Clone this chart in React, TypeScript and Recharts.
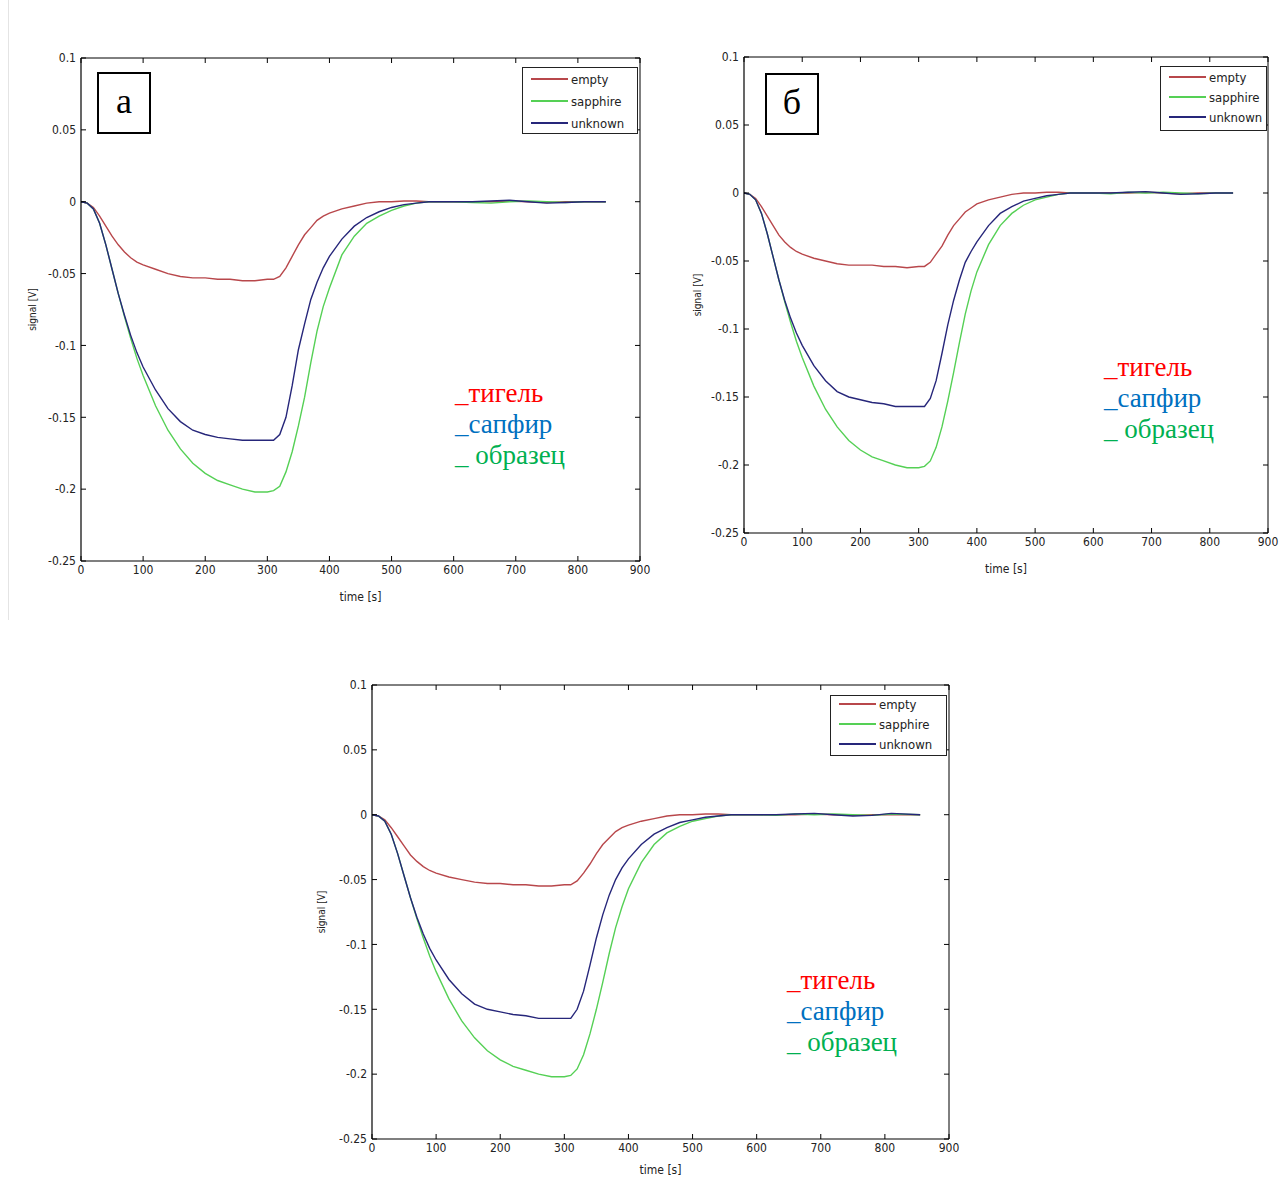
import React from 'react';
import { LineChart, Line, XAxis, YAxis, Legend } from 'recharts';

// shared time grid (s)
const timeBase = [0, 10, 20, 30, 40, 50, 60, 70, 80, 90, 100, 120, 140, 160, 180, 200, 220, 240, 260, 280, 300, 310, 320, 330, 340, 350, 360, 370, 380, 390, 400, 420, 440, 460, 480, 500, 520, 540, 560, 580, 600, 630, 660, 690, 720, 750, 780, 810];
const timeA = [...timeBase, 845];
const timeB = [...timeBase, 840];
const timeC = [...timeBase, 855];

// panel а
const emptyA = [0, -0.001, -0.004, -0.010, -0.017, -0.024, -0.030, -0.035, -0.039, -0.042, -0.044, -0.047, -0.050, -0.052, -0.053, -0.053, -0.054, -0.054, -0.055, -0.055, -0.054, -0.054, -0.052, -0.046, -0.038, -0.030, -0.023, -0.018, -0.013, -0.010, -0.008, -0.005, -0.003, -0.001, 0, 0, 0.0005, 0.0005, 0, 0, 0, 0, 0, 0.0005, 0, -0.0005, 0, 0, 0];
const sapphireA = [0, -0.001, -0.005, -0.015, -0.030, -0.047, -0.064, -0.080, -0.095, -0.109, -0.121, -0.142, -0.159, -0.172, -0.182, -0.189, -0.194, -0.197, -0.200, -0.202, -0.202, -0.201, -0.198, -0.188, -0.174, -0.156, -0.136, -0.112, -0.090, -0.073, -0.060, -0.037, -0.024, -0.015, -0.010, -0.006, -0.003, -0.001, 0, 0, 0, -0.0005, -0.001, 0, 0.0005, 0, -0.0005, 0, 0];
const unknownA = [0, -0.001, -0.005, -0.015, -0.030, -0.047, -0.064, -0.079, -0.093, -0.105, -0.115, -0.131, -0.144, -0.153, -0.159, -0.162, -0.164, -0.165, -0.166, -0.166, -0.166, -0.166, -0.162, -0.150, -0.128, -0.103, -0.085, -0.068, -0.056, -0.046, -0.038, -0.026, -0.017, -0.011, -0.007, -0.004, -0.002, -0.001, 0, 0, 0, 0, 0.0005, 0.001, 0, -0.001, -0.0005, 0, 0];

// panel б
const emptyB = [0, -0.001, -0.004, -0.010, -0.017, -0.024, -0.031, -0.036, -0.040, -0.043, -0.045, -0.048, -0.050, -0.052, -0.053, -0.053, -0.053, -0.054, -0.054, -0.055, -0.054, -0.054, -0.051, -0.045, -0.039, -0.031, -0.024, -0.019, -0.014, -0.011, -0.008, -0.005, -0.003, -0.001, 0, 0, 0.0005, 0.0005, 0, 0, 0, 0, 0, 0.0005, 0, -0.0005, 0, 0, 0];
const sapphireB = [0, -0.001, -0.005, -0.015, -0.030, -0.047, -0.064, -0.080, -0.095, -0.109, -0.121, -0.142, -0.159, -0.172, -0.182, -0.189, -0.194, -0.197, -0.200, -0.202, -0.202, -0.201, -0.197, -0.187, -0.172, -0.153, -0.132, -0.110, -0.089, -0.072, -0.058, -0.038, -0.024, -0.015, -0.009, -0.005, -0.003, -0.001, 0, 0, 0, -0.0005, 0.0005, 0, 0.0005, 0, -0.0005, 0, 0];
const unknownB = [0, -0.001, -0.005, -0.015, -0.030, -0.047, -0.064, -0.079, -0.092, -0.103, -0.112, -0.127, -0.138, -0.146, -0.150, -0.152, -0.154, -0.155, -0.157, -0.157, -0.157, -0.157, -0.151, -0.138, -0.118, -0.097, -0.079, -0.064, -0.051, -0.043, -0.036, -0.024, -0.015, -0.010, -0.006, -0.004, -0.002, -0.001, 0, 0, 0, 0, 0.0005, 0.001, 0, -0.001, -0.0005, 0, 0];

// panel в
const emptyC = [0, -0.001, -0.004, -0.010, -0.017, -0.024, -0.031, -0.036, -0.040, -0.043, -0.045, -0.048, -0.050, -0.052, -0.053, -0.053, -0.054, -0.054, -0.055, -0.055, -0.054, -0.054, -0.051, -0.045, -0.038, -0.030, -0.023, -0.018, -0.013, -0.010, -0.008, -0.005, -0.003, -0.001, 0, 0, 0.0005, 0.0005, 0, 0, 0, 0, 0, 0.0005, 0, -0.0005, 0, 0, 0];
const sapphireC = [0, -0.001, -0.005, -0.015, -0.030, -0.047, -0.064, -0.080, -0.095, -0.109, -0.121, -0.142, -0.159, -0.172, -0.182, -0.189, -0.194, -0.197, -0.200, -0.202, -0.202, -0.201, -0.196, -0.185, -0.169, -0.150, -0.129, -0.107, -0.087, -0.071, -0.057, -0.037, -0.023, -0.014, -0.009, -0.005, -0.003, -0.001, 0, 0, 0, -0.0005, 0.0005, 0, 0.0005, 0, -0.0005, 0.0005, 0];
const unknownC = [0, -0.001, -0.005, -0.015, -0.030, -0.047, -0.064, -0.079, -0.092, -0.103, -0.112, -0.127, -0.138, -0.146, -0.150, -0.152, -0.154, -0.155, -0.157, -0.157, -0.157, -0.157, -0.150, -0.136, -0.116, -0.095, -0.077, -0.062, -0.050, -0.041, -0.034, -0.023, -0.015, -0.010, -0.006, -0.004, -0.002, -0.001, 0, 0, 0, 0, 0.0005, 0.001, 0, -0.001, -0.0005, 0.001, 0];

const xTicks = [0, 100, 200, 300, 400, 500, 600, 700, 800, 900];
const yTicks = [-0.25, -0.2, -0.15, -0.1, -0.05, 0, 0.05, 0.1];
const seriesKeys = ['empty', 'sapphire', 'unknown'];
const seriesColors = ['#b8474b', '#55d055', '#26267a'];
const annotationTexts = ['_тигель', '_сапфир', '_ образец'];
const annotationColors = ['#ff0000', '#0070c0', '#00b050'];
const panelLabels = ['а', 'б', ''];

const NARROW = "'Liberation Sans Narrow', 'Arial Narrow', 'DejaVu Sans Condensed', 'Liberation Sans', sans-serif";
const SERIF = "'Liberation Serif', 'Times New Roman', serif";

function build(time: number[], e: number[], s: number[], u: number[]) {
  return time.map((t, i) => ({ t, empty: e[i], sapphire: s[i], unknown: u[i] }));
}

const fmt = (v: number) => String(Number(v.toFixed(2)));
const noTick = () => <g />;

const panels = [
  {
    left: 0, top: 40, width: 660, height: 580,
    margin: { top: 18, right: 20, bottom: 19, left: 20 }, yw: 61, xh: 40, yLabelDx: 12, xLabelOffset: 0,
    data: build(timeA, emptyA, sapphireA, unknownA),
    legend: { left: 522, top: 27, w: 116, h: 67, row: 22, pad: 0 },
    label: panelLabels[0], labelBox: { left: 97, top: 32 },
    ann: { left: 455, top: 338 },
  },
  {
    left: 680, top: 40, width: 602, height: 540,
    margin: { top: 17, right: 14, bottom: 7, left: 8 }, yw: 56, xh: 40, yLabelDx: 9, xLabelOffset: 0,
    data: build(timeB, emptyB, sapphireB, unknownB),
    legend: { left: 480, top: 26, w: 107, h: 65, row: 20, pad: 0 },
    label: panelLabels[1], labelBox: { left: 85, top: 33 },
    ann: { left: 424, top: 312 },
  },
  {
    left: 300, top: 665, width: 682, height: 513,
    margin: { top: 20, right: 33, bottom: 1, left: 14 }, yw: 58, xh: 38, yLabelDx: 7, xLabelOffset: 3,
    data: build(timeC, emptyC, sapphireC, unknownC),
    legend: { left: 530, top: 30, w: 117, h: 61, row: 20, pad: -2 },
    label: panelLabels[2], labelBox: { left: 0, top: 0 },
    ann: { left: 487, top: 300 },
  },
];

function Panel({ cfg }: { cfg: any }) {
  const { left, top, width, height, margin, yw, xh, yLabelDx, xLabelOffset, data, legend, label, labelBox, ann } = cfg;
  const tickStyle = { fontSize: 12, fill: '#222', fontFamily: NARROW };
  const renderLegend = (props: any) => {
    const payload = (props.payload || []) as any[];
    return (
      <div style={{ width: legend.w, height: legend.h, boxSizing: 'border-box', border: '1px solid #222', background: '#fff', overflow: 'hidden' }}>
        <div style={{ marginTop: legend.pad }}>
          {payload.map((p: any) => (
            <div key={p.value} style={{ display: 'flex', alignItems: 'center', height: legend.row, paddingLeft: 8 }}>
              <span style={{ display: 'inline-block', width: 37, height: 2, background: p.color, marginRight: 3 }} />
              <span style={{ fontFamily: NARROW, fontSize: 13, color: '#222' }}>{p.value}</span>
            </div>
          ))}
        </div>
      </div>
    );
  };
  const yLabel = (p: any) => {
    const vb = p.viewBox || {};
    const cx = vb.x + yLabelDx;
    const cy = vb.y + vb.height / 2;
    return (
      <text x={cx} y={cy} transform={`rotate(-90 ${cx} ${cy})`} textAnchor="middle" dominantBaseline="central" fontSize={10} fill="#222" fontFamily={NARROW}>
        signal [V]
      </text>
    );
  };
  return (
    <div style={{ position: 'absolute', left, top, width, height }}>
      <LineChart width={width} height={height} data={data} margin={margin}>
        <XAxis dataKey="t" type="number" domain={[0, 900]} ticks={xTicks} interval={0} allowDataOverflow height={xh}
          tickLine={false} tickSize={3} tickMargin={1} axisLine={{ stroke: '#000', strokeWidth: 1.2 }} tick={tickStyle}
          label={{ value: 'time [s]', position: 'insideBottom', offset: xLabelOffset, fontSize: 12, fill: '#222', fontFamily: NARROW }} />
        <XAxis xAxisId="bm" dataKey="t" type="number" domain={[0, 900]} ticks={xTicks} interval={0} allowDataOverflow mirror orientation="bottom"
          axisLine={false} tickLine={{ stroke: '#000' }} tickSize={5} tick={noTick} />
        <XAxis xAxisId="tm" dataKey="t" type="number" domain={[0, 900]} ticks={xTicks} interval={0} allowDataOverflow mirror orientation="top"
          axisLine={{ stroke: '#000' }} tickLine={{ stroke: '#000' }} tickSize={5} tick={noTick} />
        <YAxis type="number" domain={[-0.25, 0.1]} ticks={yTicks} interval={0} allowDataOverflow width={yw}
          tickLine={false} tickSize={3} tickMargin={2} axisLine={{ stroke: '#000', strokeWidth: 1.2 }} tick={tickStyle} tickFormatter={fmt}
          label={{ content: yLabel }} />
        <YAxis yAxisId="lm" type="number" domain={[-0.25, 0.1]} ticks={yTicks} interval={0} allowDataOverflow mirror orientation="left"
          axisLine={false} tickLine={{ stroke: '#000' }} tickSize={5} tick={noTick} />
        <YAxis yAxisId="rm" type="number" domain={[-0.25, 0.1]} ticks={yTicks} interval={0} allowDataOverflow mirror orientation="right"
          axisLine={{ stroke: '#000' }} tickLine={{ stroke: '#000' }} tickSize={5} tick={noTick} />
        {seriesKeys.map((k, i) => (
          <Line key={k} dataKey={k} name={k} type="linear" stroke={seriesColors[i]} strokeWidth={1.4} dot={false} activeDot={false} isAnimationActive={false} />
        ))}
        <Legend layout="vertical" align="center" verticalAlign="middle" content={renderLegend}
          wrapperStyle={{ position: 'absolute', left: legend.left, top: legend.top, width: legend.w, height: legend.h }} />
      </LineChart>
      {label ? (
        <div style={{ position: 'absolute', left: labelBox.left, top: labelBox.top, width: 54, height: 62, boxSizing: 'border-box', border: '2px solid #000', background: '#fff', display: 'flex', alignItems: 'center', justifyContent: 'center', fontFamily: SERIF, fontSize: 36, lineHeight: 1, paddingBottom: 4 }}>
          {label}
        </div>
      ) : null}
      <div style={{ position: 'absolute', left: ann.left, top: ann.top, fontFamily: SERIF, fontSize: 27, lineHeight: '31px', whiteSpace: 'pre' }}>
        {annotationTexts.map((t, i) => (
          <div key={t} style={{ color: annotationColors[i] }}>{t}</div>
        ))}
      </div>
    </div>
  );
}

export default function App() {
  return (
    <div style={{ position: 'absolute', left: 0, top: 0, width: 1282, height: 1178, background: '#fff', overflow: 'hidden' }}>
      <div style={{ position: 'absolute', left: 8, top: 0, width: 1, height: 620, background: '#e4e4e4' }} />
      {panels.map((p, i) => (
        <Panel key={i} cfg={p} />
      ))}
    </div>
  );
}
